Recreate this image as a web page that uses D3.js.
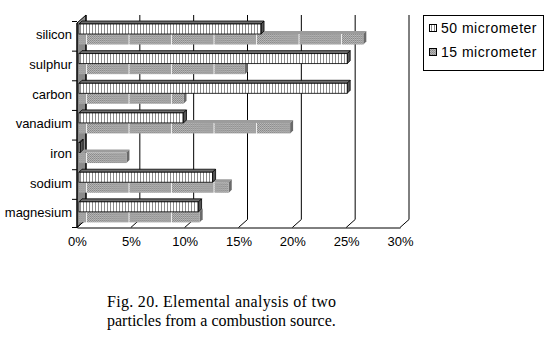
<!DOCTYPE html>
<html>
<head>
<script src="https://d3js.org/d3.v7.min.js"></script>
<style>
body { margin: 0; background: #fff; }
text { fill: #000; }
</style>
</head>
<body>
<div id="chart"></div>
<script>
var categories = ["silicon", "sulphur", "carbon", "vanadium", "iron", "sodium", "magnesium"];
var series50 = [17, 25, 25, 9.8, 0.2, 12.5, 11.2];
var series15 = [26.5, 15.5, 9.8, 19.7, 4.5, 14, 11.3];
var seriesNames = ["50 micrometer", "15 micrometer"];
var tickValues = [0, 5, 10, 15, 20, 25, 30];
var caption = ["Fig. 20. Elemental analysis of two", "particles from a combustion source."];

var w = 551, h = 350;
var dep = {x: 9, y: -8};     // back wall offset from the front plane
var floorY = 227.5, topY = 15;
var bd = 3;                   // bar depth
var sans = "'Liberation Sans', Arial, sans-serif";

var svg = d3.select("#chart").append("svg").attr("width", w).attr("height", h);

// patterns
var defs = svg.append("defs");
var hatch = defs.append("pattern").attr("id", "hatch").attr("patternUnits", "userSpaceOnUse")
  .attr("width", 3).attr("height", 4);
hatch.append("rect").attr("width", 3).attr("height", 4).attr("fill", "#fff");
hatch.append("rect").attr("x", 2).attr("width", 1).attr("height", 4).attr("fill", "#8c8c8c");

var dots = defs.append("pattern").attr("id", "dots").attr("patternUnits", "userSpaceOnUse")
  .attr("width", 2).attr("height", 2);
dots.append("rect").attr("width", 2).attr("height", 2).attr("fill", "#c0c0c0");
dots.append("rect").attr("width", 1).attr("height", 1).attr("fill", "#828282");
dots.append("rect").attr("x", 1).attr("y", 1).attr("width", 1).attr("height", 1).attr("fill", "#8a8a8a");

var grey = defs.append("pattern").attr("id", "grey").attr("patternUnits", "userSpaceOnUse")
  .attr("x", 86).attr("width", 42.5).attr("height", 4);
grey.append("rect").attr("width", 42.5).attr("height", 4).attr("fill", "url(#dots)");
grey.append("rect").attr("width", 1).attr("height", 4).attr("fill", "#eee");

var x = d3.scaleLinear().domain([0, 30]).range([77, 400]);      // front plane
var xBar = d3.scaleLinear().domain([0, 30]).range([78, 401]);
var y = d3.scaleBand().domain(categories).range([21.5, 229]);

// left wall
svg.append("polygon")
  .attr("points", [[x(0), topY - dep.y], [x(0) + dep.x, topY],
                   [x(0) + dep.x, floorY + dep.y], [x(0), floorY]].join(" "))
  .attr("fill", "#8a8a8a").attr("stroke", "#000");

// back gridlines and floor ticks
svg.append("g").selectAll("path").data(tickValues).enter().append("path")
  .attr("d", function(d) {
    return "M" + (x(d) + dep.x) + "," + topY + "V" + (floorY + dep.y) + "L" + x(d) + "," + floorY;
  })
  .attr("fill", "none").attr("stroke", "#000");

// bars
function bar3d(g, x0, x1, y0, y1, front, top, side, stroke) {
  g.append("polygon").attr("points", [[x0, y0], [x0 + bd, y0 - bd], [x1 + bd, y0 - bd], [x1, y0]].join(" "))
    .attr("fill", top).attr("stroke", stroke).attr("stroke-width", 0.8);
  g.append("polygon").attr("points", [[x1, y0], [x1 + bd, y0 - bd], [x1 + bd, y1 - bd], [x1, y1]].join(" "))
    .attr("fill", side).attr("stroke", stroke).attr("stroke-width", 0.8);
  g.append("rect").attr("x", x0).attr("y", y0).attr("width", Math.max(0, x1 - x0)).attr("height", y1 - y0)
    .attr("fill", front).attr("stroke", stroke).attr("stroke-width", 0.8);
}

var bars = svg.append("g");
categories.forEach(function(c, i) {
  var b = y(c);
  var g = bars.append("g");
  bar3d(g, xBar(0) + 1, xBar(series15[i]), b + 12.5, b + 23, "url(#grey)", "#9c9c9c", "#6a6a6a", "none");
  bar3d(g, xBar(0) + 1, xBar(series50[i]), b + 2.5, b + 12.5, "url(#hatch)", "#6e6e6e", "#555", "#000");
});

// front left edge
svg.append("line").attr("x1", x(0)).attr("x2", x(0)).attr("y1", topY - dep.y).attr("y2", floorY)
  .attr("stroke", "#000");

// x axis
var xAxis = svg.append("g").attr("transform", "translate(0," + floorY + ")")
  .call(d3.axisBottom(x).tickValues(tickValues).tickSizeInner(0).tickSizeOuter(0).tickPadding(9.5)
    .tickFormat(function(d) { return d + "%"; }));
xAxis.select(".domain").attr("stroke", "#000");
xAxis.selectAll("text").style("font-size", "13px").style("font-family", sans);

// y axis
var yAxis = svg.append("g").attr("transform", "translate(" + x(0) + ",-1)")
  .call(d3.axisLeft(y).tickSize(0).tickPadding(5));
yAxis.select(".domain").remove();
yAxis.selectAll("text").style("font-size", "13px").style("font-family", sans);

var bounds = categories.map(function(c) { return y(c); }).concat([floorY]);
svg.append("g").selectAll("line").data(bounds).enter().append("line")
  .attr("x1", x(0) - 5).attr("x2", x(0)).attr("y1", function(d) { return d; }).attr("y2", function(d) { return d; })
  .attr("stroke", "#000");

// legend
var lg = svg.append("g");
lg.append("rect").attr("x", 423.5).attr("y", 15.5).attr("width", 120).attr("height", 55)
  .attr("fill", "#fff").attr("stroke", "#000");
var fills = ["url(#hatch)", "url(#grey)"];
seriesNames.forEach(function(n, i) {
  lg.append("rect").attr("x", 429.5).attr("y", 24.5 + i * 24).attr("width", 7).attr("height", 7)
    .attr("fill", fills[i]).attr("stroke", "#000");
  lg.append("text").attr("x", 441).attr("y", 33 + i * 24)
    .style("font-family", sans).style("font-size", "14px")
    .attr("letter-spacing", 0.5).text(n);
});

// caption
svg.append("g").selectAll("text").data(caption).enter().append("text")
  .attr("x", 107).attr("y", function(d, i) { return 307 + i * 19; })
  .style("font-family", "'Liberation Serif', 'Times New Roman', serif").style("font-size", "16px")
  .attr("textLength", function(d, i) { return i === 0 ? 229 : null; })
  .attr("lengthAdjust", "spacing")
  .text(function(d) { return d; });
</script>
</body>
</html>
